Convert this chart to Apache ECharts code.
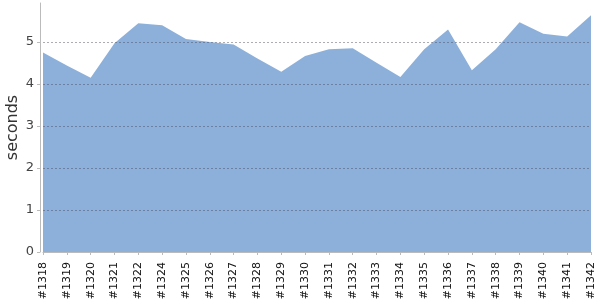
<!DOCTYPE html>
<html><head><meta charset="utf-8">
<script src="https://cdn.jsdelivr.net/npm/echarts@6/dist/echarts.min.js"></script>
<style>html,body{margin:0;padding:0;background:#fff}#c{width:600px;height:300px}</style>
</head><body><div id="c"></div>
<script>
const categories = ["#1318","#1319","#1320","#1321","#1322","#1324","#1325","#1326","#1327","#1328","#1329","#1330","#1331","#1332","#1333","#1334","#1335","#1336","#1337","#1338","#1339","#1340","#1341","#1342"];
const seconds = [4.75,4.44,4.15,4.97,5.45,5.40,5.07,5.00,4.94,4.61,4.29,4.67,4.83,4.85,4.51,4.17,4.83,5.30,4.33,4.83,5.47,5.20,5.13,5.64];
const yTicks = [0,1,2,3,4,5];
const chart = echarts.init(document.getElementById('c'));
chart.setOption({
  animation:false,
  textStyle:{fontFamily:'DejaVu Sans'},
  grid:{left:43,right:9,top:3,bottom:48,containLabel:false,outerBoundsMode:'none'},
  xAxis:{type:'category',data:categories,boundaryGap:false,offset:3,
    axisLine:{lineStyle:{color:'#bbb'}},
    axisTick:{alignWithLabel:true,length:3,lineStyle:{color:'#bbb'}},
    axisLabel:{rotate:90,interval:0,fontSize:11,color:'#111',fontFamily:'DejaVu Sans',margin:7}},
  yAxis:{type:'value',min:0,max:5.93,interval:1,offset:3,z:3,
    name:'seconds',nameLocation:'middle',nameGap:19,nameRotate:90,nameMoveOverlap:false,
    nameTextStyle:{fontSize:16,color:'#333',fontFamily:'DejaVu Sans'},
    axisLine:{show:true,lineStyle:{color:'#bbb'}},
    axisTick:{show:true,length:3,lineStyle:{color:'#bbb'}},
    axisLabel:{fontSize:13,color:'#444',margin:6,showMaxLabel:false,formatter:v=>yTicks.includes(v)?String(v):''},
    splitLine:{show:true,showMinLine:false,showMaxLine:false,lineStyle:{color:'rgba(70,70,90,0.45)',type:[2,2],width:1}}},
  series:[{type:'line',data:seconds,symbol:'none',
    lineStyle:{width:0,color:'#8db0da'},
    areaStyle:{color:'#8db0da',opacity:1},z:1}]
});
</script></body></html>
